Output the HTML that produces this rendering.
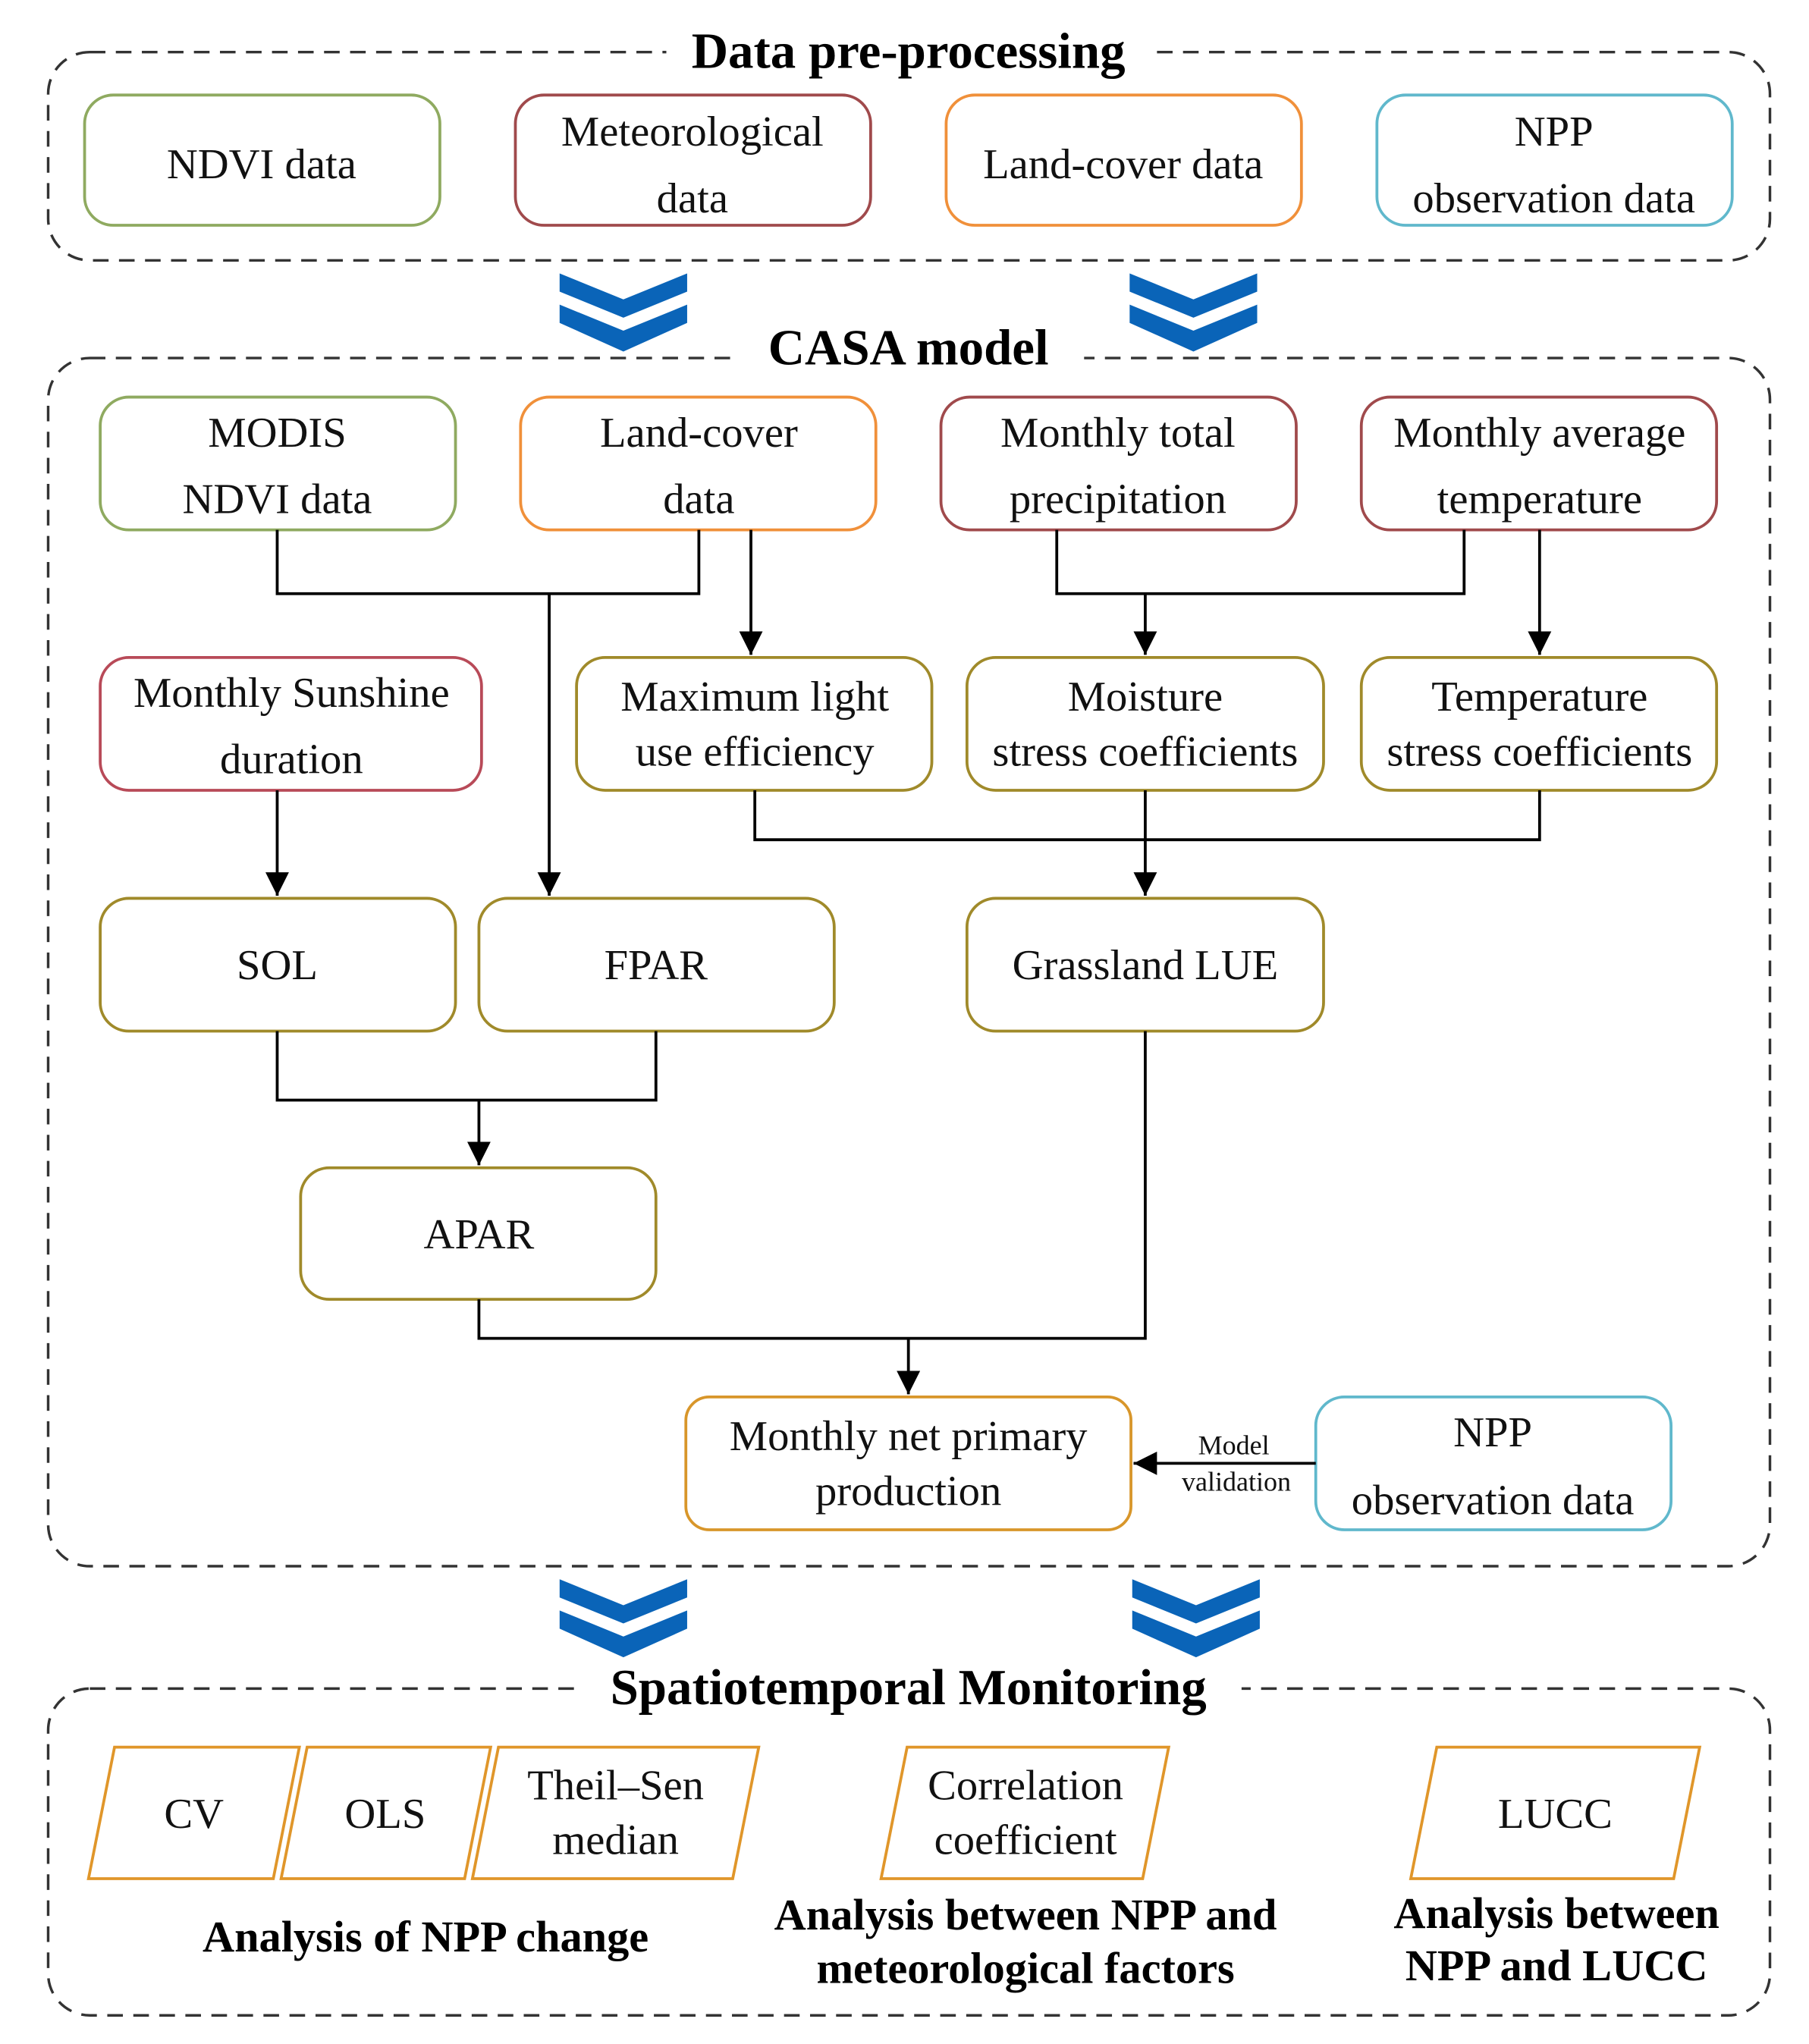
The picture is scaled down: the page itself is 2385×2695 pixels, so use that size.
<!DOCTYPE html>
<html><head><meta charset="utf-8"><style>html,body{margin:0;padding:0;background:#fff}svg{display:block}</style></head>
<body>
<svg width="2385" height="2695" viewBox="0 0 1390 1570" preserveAspectRatio="none" xmlns="http://www.w3.org/2000/svg" font-family="'Liberation Serif', 'DejaVu Serif', serif">
<defs>
<marker id="ah" viewBox="0 0 10 10" refX="10" refY="5" markerWidth="18" markerHeight="18" markerUnits="userSpaceOnUse" orient="auto"><path d="M0,0 L10,5 L0,10 z" fill="#000"/></marker>
<g id="chev"><path d="M0,0 L49,20 L98,0 L98,14 L49,34 L0,14 z" fill="#0a64b8"/><path d="M0,24 L49,44 L98,24 L98,38 L49,60 L0,38 z" fill="#0a64b8"/></g>
</defs>
<g fill="none" stroke="#333" stroke-width="2" stroke-dasharray="12,8">
<rect x="37" y="40" width="1323" height="160" rx="32"/>
<rect x="37" y="275" width="1323" height="928" rx="32"/>
<rect x="37" y="1297" width="1323" height="251" rx="32"/>
</g>
<g fill="#fff">
<rect x="512" y="20" width="372" height="40"/>
<rect x="565" y="248" width="268" height="40"/>
<rect x="442" y="1277" width="512" height="40"/>
</g>
<g font-weight="bold" font-size="39" text-anchor="middle" fill="#000">
<text x="698" y="52">Data pre-processing</text>
<text x="698" y="280">CASA model</text>
<text x="698" y="1309">Spatiotemporal Monitoring</text>
</g>
<use href="#chev" x="430" y="210"/><use href="#chev" x="868" y="210"/>
<use href="#chev" x="430" y="1213"/><use href="#chev" x="870" y="1213"/>
<g fill="none" stroke-width="2.2">
<rect x="65" y="73" width="273" height="100" rx="22" stroke="#8faa60"/>
<rect x="396" y="73" width="273" height="100" rx="22" stroke="#a04a4c"/>
<rect x="727" y="73" width="273" height="100" rx="22" stroke="#f0903a"/>
<rect x="1058" y="73" width="273" height="100" rx="22" stroke="#60b8cc"/>
<rect x="77" y="305" width="273" height="102" rx="22" stroke="#8faa60"/>
<rect x="400" y="305" width="273" height="102" rx="22" stroke="#f0903a"/>
<rect x="723" y="305" width="273" height="102" rx="22" stroke="#a04a4c"/>
<rect x="1046" y="305" width="273" height="102" rx="22" stroke="#a04a4c"/>
<rect x="77" y="505" width="293" height="102" rx="22" stroke="#b84a58"/>
<rect x="443" y="505" width="273" height="102" rx="22" stroke="#a08a2a"/>
<rect x="743" y="505" width="274" height="102" rx="22" stroke="#a08a2a"/>
<rect x="1046" y="505" width="273" height="102" rx="22" stroke="#a08a2a"/>
<rect x="77" y="690" width="273" height="102" rx="22" stroke="#a08a2a"/>
<rect x="368" y="690" width="273" height="102" rx="22" stroke="#a08a2a"/>
<rect x="743" y="690" width="274" height="102" rx="22" stroke="#a08a2a"/>
<rect x="231" y="897" width="273" height="101" rx="22" stroke="#a08a2a"/>
<rect x="527" y="1073" width="342" height="102" rx="18" stroke="#d8962a"/>
<rect x="1011" y="1073" width="273" height="102" rx="22" stroke="#60b8cc"/>
<g stroke="#e0962a">
<path d="M88,1342 L230,1342 L210,1443 L68,1443 z"/>
<path d="M236,1342 L377,1342 L357,1443 L216,1443 z"/>
<path d="M383,1342 L583,1342 L563,1443 L363,1443 z"/>
<path d="M697,1342 L898,1342 L878,1443 L677,1443 z"/>
<path d="M1104,1342 L1306,1342 L1286,1443 L1084,1443 z"/>
</g>
</g>
<g fill="none" stroke="#000" stroke-width="2.2">
<path d="M213,407 V456 H537 V407"/>
<path d="M422,456 V688" marker-end="url(#ah)"/>
<path d="M577,407 V503" marker-end="url(#ah)"/>
<path d="M812,407 V456 H1125 V407"/>
<path d="M880,456 V503" marker-end="url(#ah)"/>
<path d="M1183,407 V503" marker-end="url(#ah)"/>
<path d="M213,607 V688" marker-end="url(#ah)"/>
<path d="M580,607 V645 H1183 V607"/>
<path d="M880,607 V688" marker-end="url(#ah)"/>
<path d="M213,792 V845 H504 V792"/>
<path d="M368,845 V895" marker-end="url(#ah)"/>
<path d="M368,998 V1028 H880 V792"/>
<path d="M698,1028 V1071" marker-end="url(#ah)"/>
<path d="M1011,1124 H871" marker-end="url(#ah)"/>
</g>
<g font-size="33" text-anchor="middle" fill="#111">
<text x="201" y="137">NDVI data</text>
<text x="532" y="112">Meteorological</text><text x="532" y="163">data</text>
<text x="863" y="137">Land-cover data</text>
<text x="1194" y="112">NPP</text><text x="1194" y="163">observation data</text>
<text x="213" y="343">MODIS</text><text x="213" y="394">NDVI data</text>
<text x="537" y="343">Land-cover</text><text x="537" y="394">data</text>
<text x="859" y="343">Monthly total</text><text x="859" y="394">precipitation</text>
<text x="1183" y="343">Monthly average</text><text x="1183" y="394">temperature</text>
<text x="224" y="543">Monthly Sunshine</text><text x="224" y="594">duration</text>
<text x="580" y="546">Maximum light</text><text x="580" y="588">use efficiency</text>
<text x="880" y="546">Moisture</text><text x="880" y="588">stress coefficients</text>
<text x="1183" y="546">Temperature</text><text x="1183" y="588">stress coefficients</text>
<text x="213" y="752">SOL</text>
<text x="504" y="752">FPAR</text>
<text x="880" y="752">Grassland LUE</text>
<text x="368" y="959">APAR</text>
<text x="698" y="1114">Monthly net primary</text><text x="698" y="1156">production</text>
<text x="1147" y="1111">NPP</text><text x="1147" y="1163">observation data</text>
<text x="149" y="1404">CV</text>
<text x="296" y="1404">OLS</text>
<text x="473" y="1382">Theil–Sen</text><text x="473" y="1424">median</text>
<text x="788" y="1382">Correlation</text><text x="788" y="1424">coefficient</text>
<text x="1195" y="1404">LUCC</text>
</g>
<g font-size="21" text-anchor="middle" fill="#111">
<text x="948" y="1117">Model</text><text x="950" y="1145">validation</text>
</g>
<g font-size="34" font-weight="bold" text-anchor="middle" fill="#000">
<text x="327" y="1499">Analysis of NPP change</text>
<text x="788" y="1482">Analysis between NPP and</text>
<text x="788" y="1523">meteorological factors</text>
<text x="1196" y="1481">Analysis between</text>
<text x="1196" y="1521">NPP and LUCC</text>
</g>
</svg>
</body></html>
